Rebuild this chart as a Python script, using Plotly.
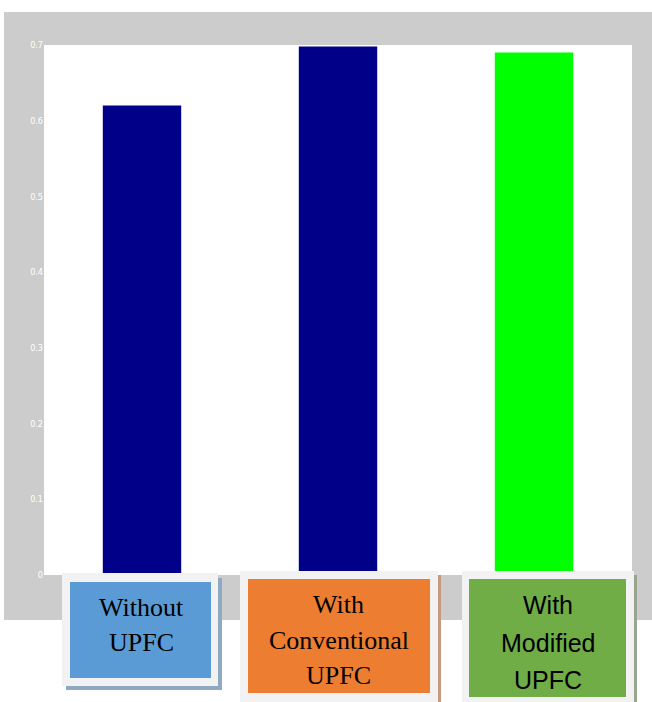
import plotly.graph_objects as go

# Bar chart data
categories = ["Without UPFC", "With Conventional UPFC", "With Modified UPFC"]
values = [0.62, 0.698, 0.69]
bar_colors = ["#000088", "#000088", "#00ff00"]
tick_vals = [0, 0.1, 0.2, 0.3, 0.4, 0.5, 0.6, 0.7]
tick_text = ["0", "0.1", "0.2", "0.3", "0.4", "0.5", "0.6", "0.7"]

# Label boxes under the bars
label_lines = [["Without", "UPFC"], ["With", "Conventional", "UPFC"], ["With", "Modified", "UPFC"]]
label_fills = ["#5b9bd5", "#ed7d31", "#70ad47"]
label_fonts = ["Liberation Serif", "Liberation Serif", "Liberation Sans"]
label_sizes = [26, 26, 25]

W, H = 652, 702
L, R, T, B = 44, 632, 45, 575  # plot area in pixels


def px(x):
    return (x - L) / (R - L)


def py(y):
    return (B - y) / (B - T)


def rect(x0, y0, x1, y1, color, layer="above"):
    return dict(type="rect", xref="paper", yref="paper",
                x0=px(x0), x1=px(x1), y0=py(y1), y1=py(y0),
                fillcolor=color, line=dict(width=0), layer=layer)


fig = go.Figure(go.Bar(x=categories, y=values, marker=dict(color=bar_colors, line=dict(width=0)),
                       width=0.4))

shapes = [rect(4, 12, 652, 620, "#cccccc", layer="below"),
          rect(L, T, R, B, "#ffffff", layer="below")]

# box geometry: frame, inner fill, shadow
frames = [(62, 573, 218, 686), (240, 571, 438, 702), (462, 571, 634, 702)]
inners = [(70, 582, 211, 678), (248, 579, 430, 693), (469, 579, 626, 697)]
shadows = [(66, 578, 222, 690), (438, 575, 441, 702), (634, 575, 637, 702)]
shadow_colors = ["#8ea9c1", "#c49a80", "#9aa58f"]
text_x = [141, 339, 548]
text_y = [[607, 642], [604, 640, 675], [605, 643, 680]]

annotations = []
for i in range(3):
    shapes.append(rect(*shadows[i], shadow_colors[i]))
    shapes.append(rect(*frames[i], "#f2f2f2"))
    shapes.append(rect(*inners[i], label_fills[i]))
    for line, yy in zip(label_lines[i], text_y[i]):
        annotations.append(dict(text=line, xref="paper", yref="paper",
                                x=px(text_x[i]), y=py(yy), xanchor="center", yanchor="middle",
                                showarrow=False,
                                font=dict(family=label_fonts[i], size=label_sizes[i], color="#000000")))

fig.update_layout(
    width=W, height=H,
    margin=dict(l=L, r=W - R, t=T, b=H - B, pad=0),
    paper_bgcolor="rgba(0,0,0,0)",
    plot_bgcolor="rgba(0,0,0,0)",
    showlegend=False,
    bargap=0.6,
    shapes=shapes,
    annotations=annotations,
    xaxis=dict(showticklabels=False, showgrid=False, zeroline=False, showline=False, ticks=""),
    yaxis=dict(range=[0, 0.7], tickvals=tick_vals, ticktext=tick_text, showgrid=False,
               zeroline=False, showline=False, ticks="", ticklabelstandoff=0,
               tickfont=dict(family="DejaVu Sans Condensed, Liberation Sans Narrow, sans-serif",
                             size=9, color="#ffffff")),
)

fig.write_html("out.html")
